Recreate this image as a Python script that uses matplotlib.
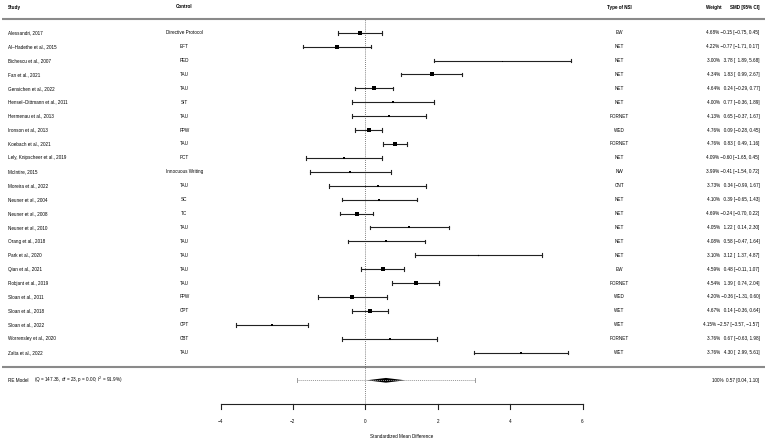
import numpy as np
import matplotlib
matplotlib.use("Agg")
import matplotlib.pyplot as plt

plt.rcParams['font.family'] = ['Liberation Sans', 'DejaVu Sans']

# ─── Data ──────────────────────────────────────────────────────────────────────
studies = [
    "Alessandri, 2017", "Al\u2013Hadethe et al., 2015", "Bichescu et al., 2007",
    "Fan et al., 2021", "Gensichen et al., 2022", "Hensel\u2013Dittmann et al., 2011",
    "Hermenau et al., 2013", "Ironson et al., 2013", "Koebach et al., 2021",
    "Lely, Knipscheer et al., 2019", "McIntire, 2015", "Moreira et al., 2022",
    "Neuner et al., 2004", "Neuner et al., 2008", "Neuner et al., 2010",
    "Orang et al., 2018", "Park et al., 2020", "Qian et al., 2021",
    "Robjant et al., 2019", "Sloan et al., 2011", "Sloan et al., 2018",
    "Sloan et al., 2022", "Worrensley et al., 2020", "Zalta et al., 2022",
]
controls = [
    "Directive Protocol", "EFT", "PED", "TAU", "TAU", "SIT", "TAU", "FPW", "TAU",
    "PCT", "Innocuous Writing", "TAU", "SC", "TC", "TAU", "TAU", "TAU", "TAU",
    "TAU", "FPW", "CPT", "CPT", "CBT", "TAU",
]
nsi_types = [
    "EW", "NET", "NET", "NET", "NET", "NET", "FORNET", "WED", "FORNET",
    "NET", "NW", "CNT", "NET", "NET", "NET", "NET", "NET", "EW",
    "FORNET", "WED", "WET", "WET", "FORNET", "WET",
]
weights = [4.68, 4.22, 3.00, 4.34, 4.64, 4.00, 4.13, 4.76, 4.76,
           4.09, 3.99, 3.73, 4.10, 4.69, 4.05, 4.08, 3.10, 4.59,
           4.54, 4.20, 4.67, 4.15, 3.76, 3.76]
smd = [-0.15, -0.77, 3.78, 1.83, 0.24, 0.77, 0.65, 0.09, 0.83,
       -0.60, -0.41, 0.34, 0.39, -0.24, 1.22, 0.58, 3.12, 0.48,
       1.39, -0.36, 0.14, -2.57, 0.67, 4.30]
ci_lo = [-0.75, -1.71, 1.89, 0.99, -0.29, -0.36, -0.37, -0.28, 0.49,
         -1.65, -1.54, -0.99, -0.65, -0.70, 0.14, -0.47, 1.37, -0.11,
         0.74, -1.31, -0.36, -3.57, -0.63, 2.99]
ci_hi = [0.45, 0.17, 5.68, 2.67, 0.77, 1.89, 1.67, 0.45, 1.16,
         0.45, 0.72, 1.67, 1.43, 0.22, 2.30, 1.64, 4.87, 1.07,
         2.04, 0.60, 0.64, -1.57, 1.98, 5.61]

re_est, re_lo, re_hi = 0.57, 0.04, 1.10
pi_lo, pi_hi = -1.90, 3.04
re_stats = "(Q = 147.36, df = 23, p = 0.00; I$^2$ = 91.9%)"
x_ticks = [-4, -2, 0, 2, 4, 6]

# ─── Layout (pixel -> data) ────────────────────────────────────────────────────
W, H = 767, 442
X0_PX, PX_PER_X = 365.3, 36.2
Y0_PX, PX_PER_ROW = 32.7, 13.91
K = len(studies)


def px(x):
    return (x - X0_PX) / PX_PER_X


def py(y):
    return K - (y - Y0_PX) / PX_PER_ROW


def fmt(v, pad=False):
    s = f"{v:.2f}".replace('-', '\u2212')
    if pad and v >= 0:
        s = '\u2002' + s  # keep room of the minus sign
    return s


fig = plt.figure(figsize=(W / 100, H / 100), dpi=100)
ax = fig.add_axes([0, 0, 1, 1])
ax.set_xlim(px(0), px(W))
ax.set_ylim(py(H), py(0))
ax.axis('off')

FS = 3.3
rows = np.arange(K, 0, -1)

# header
hy = py(7)
ax.text(px(8), hy, "Study", fontsize=FS, fontweight='bold', va='center', ha='left')
ax.text(px(184.3), hy, "Control", fontsize=FS, fontweight='bold', va='center', ha='center')
ax.text(px(619.3), hy, "Type of NSI", fontsize=FS, fontweight='bold', va='center', ha='center')
ax.text(px(722), hy, "Weight", fontsize=FS, fontweight='bold', va='center', ha='right')
ax.text(px(759.5), hy, "SMD [95% CI]", fontsize=FS, fontweight='bold', va='center', ha='right')

# separators
for yy in (py(19), py(367)):
    ax.plot([px(2), px(765)], [yy, yy], color='#8a8a8a', lw=1.5, solid_capstyle='butt')

# reference line
ax.plot([0, 0], [py(404), py(19)], color='#555555', lw=0.6, ls=(0, (1, 1.5)))

# CIs and squares
w = np.array(weights)
side = 1.0 + 3.0 * (w - w.min()) / (w.max() - w.min())
cap = 0.13
for y, est, lo, hi, s in zip(rows, smd, ci_lo, ci_hi, side):
    ax.plot([lo, hi], [y, y], color='#222222', lw=0.8)
    ax.plot([lo, lo], [y - cap, y + cap], color='#222222', lw=0.8)
    ax.plot([hi, hi], [y - cap, y + cap], color='#222222', lw=0.8)
    ax.plot(est, y, marker='s', color='black', ms=s * 0.72, mew=0)

# row text
for y, st, ctl, t, wt, est, lo, hi in zip(rows, studies, controls, nsi_types,
                                          weights, smd, ci_lo, ci_hi):
    ax.text(px(8), y, st, fontsize=FS, va='center', ha='left')
    ax.text(px(184.3), y, ctl, fontsize=FS, va='center', ha='center')
    ax.text(px(619.3), y, t, fontsize=FS, va='center', ha='center')
    annot = f"{wt:.2f}% {fmt(est, True)} [{fmt(lo, True)}, {fmt(hi)}]"
    ax.text(px(759.5), y, annot, fontsize=FS, va='center', ha='right')

# RE model
ry = py(380.3)
ax.plot([pi_lo, pi_hi], [ry, ry], color='#999999', lw=0.7, ls=(0, (1, 1)))
for xx in (pi_lo, pi_hi):
    ax.plot([xx, xx], [ry - cap, ry + cap], color='#999999', lw=0.7)
dh = 0.17
ax.fill([re_lo, re_est, re_hi, re_est], [ry, ry + dh, ry, ry - dh], color='black', lw=0)
ax.text(px(8), ry, "RE Model", fontsize=FS, va='center', ha='left')
ax.text(px(34.3), ry, re_stats, fontsize=FS, va='center', ha='left')
ax.text(px(759.5), ry, f"100%  {fmt(re_est)} [{fmt(re_lo)}, {fmt(re_hi)}]",
        fontsize=FS, va='center', ha='right')

# x axis
ay = py(404)
ax.plot([x_ticks[0], x_ticks[-1]], [ay, ay], color='#222222', lw=0.8)
for t in x_ticks:
    ax.plot([t, t], [ay, py(409)], color='#222222', lw=0.8)
    ax.text(t, py(421.7), str(t).replace('-', '\u2212'), fontsize=FS, va='center', ha='center')
ax.text(np.mean([x_ticks[0], x_ticks[-1]]), py(436.7), "Standardized Mean Difference",
        fontsize=FS, va='center', ha='center')

fig.savefig("out.png", dpi=100)
